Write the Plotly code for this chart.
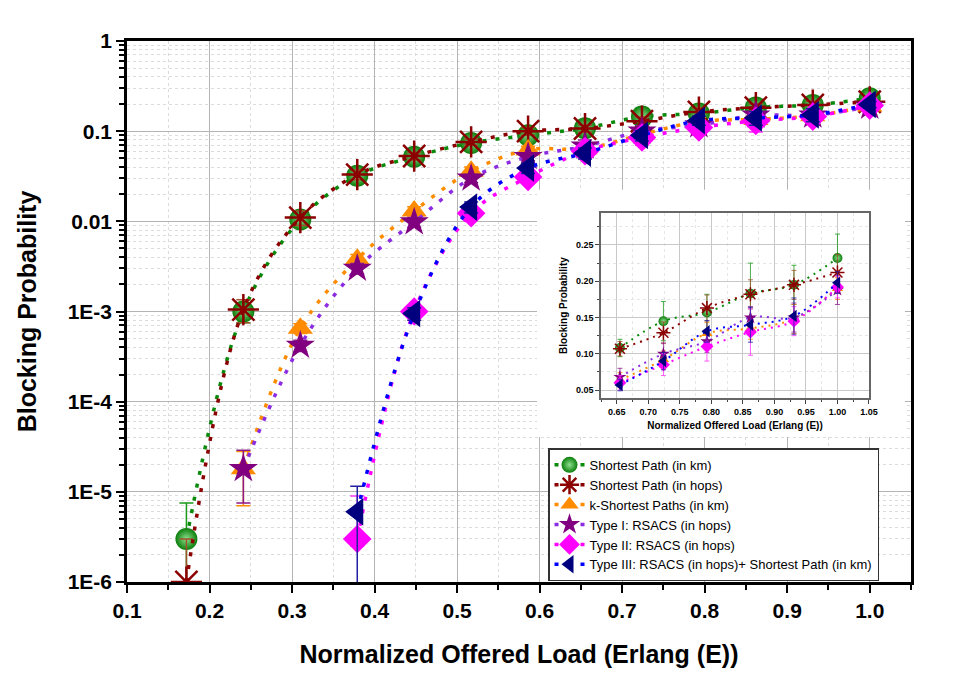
import plotly.graph_objects as go

# ---------------- data ----------------
load = [0.172, 0.241, 0.310, 0.379, 0.448, 0.517, 0.586, 0.655, 0.724, 0.793, 0.862, 0.931, 1.000]

sp_km = [3.0e-6, 1.0e-3, 0.0105, 0.032, 0.052, 0.074, 0.090, 0.108, 0.145, 0.157, 0.183, 0.195, 0.232]
sp_km_hi = [4.5e-6, 2.5e-4, 1.5e-3, 3e-3, 4e-3, 5e-3, 8e-3, 0.012, 0.027, 0.025, 0.042, 0.027, 0.033]
sp_km_lo = [2.99e-6, 2.5e-4, 1.5e-3, 3e-3, 4e-3, 5e-3, 8e-3, 0.012, 0.027, 0.025, 0.042, 0.027, 0.033]

sp_hops = [1.0e-6, 1.05e-3, 0.011, 0.033, 0.053, 0.076, 0.100, 0.107, 0.129, 0.163, 0.182, 0.195, 0.212]
sp_hops_hi = [2.0e-6, 3e-4, 2e-3, 4e-3, 5e-3, 6e-3, 1e-2, 0.010, 0.015, 0.018, 0.020, 0.020, 0.025]
sp_hops_lo = [0.5e-6, 3e-4, 2e-3, 4e-3, 5e-3, 6e-3, 1e-2, 0.010, 0.015, 0.018, 0.020, 0.020, 0.025]

ksp_km = [None, 1.8e-5, 6.5e-4, 3.8e-3, 0.013, 0.036, 0.062, 0.064, 0.092, 0.128, 0.135, 0.148, 0.190]
ksp_km_hi = [0, 1.0e-5, 8e-5, 5e-4, 1.5e-3, 4e-3, 6e-3, 0.010, 0.012, 0.015, 0.015, 0.020, 0.015]
ksp_km_lo = [0, 1.1e-5, 8e-5, 5e-4, 1.5e-3, 4e-3, 6e-3, 0.010, 0.012, 0.015, 0.015, 0.020, 0.015]

type1 = [None, 1.8e-5, 4.2e-4, 3.0e-3, 0.0098, 0.030, 0.052, 0.068, 0.100, 0.117, 0.150, 0.150, 0.188]
type1_hi = [0, 1.1e-5, 6e-5, 4e-4, 1.2e-3, 3e-3, 5e-3, 0.012, 0.015, 0.015, 0.015, 0.020, 0.020]
type1_lo = [0, 1.05e-5, 6e-5, 4e-4, 1.2e-3, 3e-3, 5e-3, 0.012, 0.015, 0.015, 0.015, 0.020, 0.020]

type2 = [None, None, None, 3.0e-6, 1.0e-3, 0.0123, 0.031, 0.060, 0.085, 0.110, 0.130, 0.145, 0.192]
type2_hi = [0, 0, 0, 6e-6, 1.5e-4, 1.5e-3, 4e-3, 0.010, 0.015, 0.020, 0.032, 0.020, 0.015]
type2_lo = [0, 0, 0, 0.5e-6, 1.5e-4, 1.5e-3, 4e-3, 0.010, 0.015, 0.020, 0.032, 0.020, 0.015]

type3 = [None, None, None, 6.0e-6, 9.5e-4, 0.0144, 0.039, 0.057, 0.090, 0.131, 0.140, 0.152, 0.198]
type3_hi = [0, 0, 0, 5.5e-6, 1.5e-4, 2e-3, 5e-3, 0.008, 0.012, 0.015, 0.024, 0.025, 0.015]
type3_lo = [0, 0, 0, 5.99e-6, 1.5e-4, 2e-3, 5e-3, 0.008, 0.012, 0.015, 0.024, 0.025, 0.015]

series_names = ["Shortest Path (in km)", "Shortest Path (in hops)", "k-Shortest Paths (in km)",
                "Type I: RSACS (in hops)", "Type II: RSACS (in hops)",
                "Type III: RSACS (in hops)+ Shortest Path (in km)"]

x_tickvals = [0.1, 0.2, 0.3, 0.4, 0.5, 0.6, 0.7, 0.8, 0.9, 1.0]
x_ticktext = ["0.1", "0.2", "0.3", "0.4", "0.5", "0.6", "0.7", "0.8", "0.9", "1.0"]
y_tickvals = [1e-6, 1e-5, 1e-4, 1e-3, 1e-2, 1e-1, 1]
y_ticktext = ["1E-6", "1E-5", "1E-4", "1E-3", "0.01", "0.1", "1"]
inset_xticks = [0.65, 0.70, 0.75, 0.80, 0.85, 0.90, 0.95, 1.00, 1.05]
inset_yticks = [0.05, 0.10, 0.15, 0.20, 0.25]
inset_start = 7  # index of first load point shown in the inset (0.655)

# ---------------- styles ----------------
styles = [
    dict(symbol="circle", mcolor="#0a7d0a", lcolor="#0a8a0a", ecolor="#1a9a1a", size=22,
         gradient=dict(type="radial", color="#8fe08f"), mline=dict(width=0)),
    dict(symbol="asterisk-open", mcolor="#8b0000", lcolor="#8b0000", ecolor="#a0522d", size=26,
         gradient=None, mline=dict(width=2.5, color="#8b0000")),
    dict(symbol="triangle-up", mcolor="#ff8c00", lcolor="#ff8c00", ecolor="#ff8c00", size=22,
         gradient=None, mline=dict(width=0)),
    dict(symbol="star", mcolor="#800080", lcolor="#8b2be2", ecolor="#8b1a8b", size=22,
         gradient=None, mline=dict(width=0)),
    dict(symbol="diamond", mcolor="#ff00ff", lcolor="#ff00ff", ecolor="#ff33ff", size=22,
         gradient=None, mline=dict(width=0)),
    dict(symbol="triangle-left", mcolor="#00007f", lcolor="#0000ff", ecolor="#2020a0", size=24,
         gradient=None, mline=dict(width=0)),
]
all_y = [sp_km, sp_hops, ksp_km, type1, type2, type3]
all_hi = [sp_km_hi, sp_hops_hi, ksp_km_hi, type1_hi, type2_hi, type3_hi]
all_lo = [sp_km_lo, sp_hops_lo, ksp_km_lo, type1_lo, type2_lo, type3_lo]

FONT = "Liberation Sans, Arial, sans-serif"

fig = go.Figure()

# main traces
for name, ys, hi, lo, st in zip(series_names, all_y, all_hi, all_lo, styles):
    marker = dict(symbol=st["symbol"], color=st["mcolor"], size=st["size"], line=st["mline"])
    if st["gradient"]:
        marker["gradient"] = st["gradient"]
    fig.add_trace(go.Scatter(
        x=load, y=ys, name=name, mode="lines+markers",
        line=dict(color=st["lcolor"], width=3.5, dash="4px,9px", shape="spline", smoothing=1),
        marker=marker,
        error_y=dict(type="data", array=hi, arrayminus=lo, color=st["ecolor"],
                     thickness=1.5, width=7),
        xaxis="x", yaxis="y"))

# white box behind inset (own hidden subplot drawn above main grid)
fig.add_trace(go.Scatter(x=[0, 1, 1, 0, 0], y=[0, 0, 1, 1, 0], mode="lines", fill="toself",
                         fillcolor="white", line=dict(width=0), hoverinfo="skip",
                         showlegend=False, xaxis="x2", yaxis="y2"))

# inset traces
s = inset_start
for name, ys, hi, lo, st in zip(series_names, all_y, all_hi, all_lo, styles):
    marker = dict(symbol=st["symbol"], color=st["mcolor"], size=max(8, st["size"] * 0.45),
                  line=dict(width=1.5, color=st["mcolor"]) if st["symbol"] == "asterisk-open" else dict(width=0))
    if st["gradient"]:
        marker["gradient"] = st["gradient"]
    fig.add_trace(go.Scatter(
        x=load[s:], y=ys[s:], name=name, mode="lines+markers",
        showlegend=False,
        line=dict(color=st["lcolor"], width=2, dash="2px,5px", shape="spline", smoothing=1),
        marker=marker,
        error_y=dict(type="data", array=hi[s:], arrayminus=lo[s:],
                     color=st["ecolor"], thickness=0.8, width=2.5),
        xaxis="x3", yaxis="y3"))

# minor tick positions for log axis
minor_vals = [m * 10 ** e for e in range(-6, 0) for m in range(2, 10)]

fig.update_layout(
    width=949, height=677,
    margin=dict(l=119, r=46, t=33, b=103, autoexpand=False),
    paper_bgcolor="white", plot_bgcolor="white",
    font=dict(family=FONT, color="black"),
    showlegend=True,
    legend=dict(x=0.537, y=0.247, xanchor="left", yanchor="top",
                bgcolor="white", bordercolor="#333333", borderwidth=1.5,
                font=dict(family=FONT, size=13, color="black"),
                tracegroupgap=0, itemsizing="trace"),
    xaxis=dict(domain=[0, 1], range=[0.1, 1.05], tickmode="array", tickvals=x_tickvals,
               ticktext=x_ticktext, ticks="outside", ticklen=8, tickwidth=2, tickcolor="black",
               showline=True, linecolor="black", linewidth=2.5, mirror=True, automargin=False,
               showgrid=True, gridcolor="#b4b4b4", gridwidth=1.2, zeroline=False,
               minor=dict(dtick=0.05, tick0=0.05, ticks="outside", ticklen=5, tickwidth=1.5,
                          tickcolor="black", showgrid=True, gridcolor="#dcdcdc",
                          griddash="dot", gridwidth=1),
               tickfont=dict(family=FONT, size=21, weight="bold"),
               title=dict(text="Normalized Offered Load (Erlang (E))", standoff=25,
                          font=dict(family=FONT, size=25, weight="bold"))),
    yaxis=dict(domain=[0, 1], type="log", range=[-6, 0], tickmode="array", tickvals=y_tickvals,
               ticktext=y_ticktext, ticks="outside", ticklen=8, tickwidth=2, tickcolor="black",
               showline=True, linecolor="black", linewidth=2.5, mirror=True, automargin=False,
               showgrid=True, gridcolor="#b4b4b4", gridwidth=1.2, zeroline=False,
               minor=dict(tickmode="array", tickvals=minor_vals, ticks="outside", ticklen=5,
                          tickwidth=1.5, tickcolor="black", showgrid=True,
                          gridcolor="#dcdcdc", griddash="dot", gridwidth=1),
               tickfont=dict(family=FONT, size=21, weight="bold"),
               title=dict(text="Blocking Probability", standoff=24,
                          font=dict(family=FONT, size=25, weight="bold"))),
    xaxis2=dict(domain=[0.523, 0.992], range=[0, 1], visible=False, fixedrange=True),
    yaxis2=dict(domain=[0.268, 0.725], range=[0, 1], visible=False, fixedrange=True),
    xaxis3=dict(domain=[0.6046, 0.9464], range=[0.625, 1.05], anchor="y3", automargin=False,
                tickmode="array", tickvals=inset_xticks,
                ticktext=["%.2f" % v for v in inset_xticks],
                ticks="outside", ticklen=4, tickwidth=1, tickcolor="#444",
                showline=True, linecolor="#666666", linewidth=1.5, mirror=True,
                showgrid=True, gridcolor="#c8c8c8", gridwidth=1, zeroline=False,
                minor=dict(dtick=0.025, tick0=0.625, ticks="outside", ticklen=2, showgrid=True,
                           gridcolor="#e6e6e6", griddash="dot"),
                tickfont=dict(family=FONT, size=9, weight="bold"),
                title=dict(text="Normalized Offered Load (Erlang (E))", standoff=6,
                           font=dict(family=FONT, size=10, weight="bold"))),
    yaxis3=dict(domain=[0.340, 0.682], range=[0.039, 0.294], anchor="x3", automargin=False,
                tickmode="array", tickvals=inset_yticks,
                ticktext=["%.2f" % v for v in inset_yticks],
                ticks="outside", ticklen=4, tickwidth=1, tickcolor="#444",
                showline=True, linecolor="#666666", linewidth=1.5, mirror=True,
                showgrid=True, gridcolor="#c8c8c8", gridwidth=1, zeroline=False,
                minor=dict(dtick=0.025, tick0=0.025, ticks="outside", ticklen=2, showgrid=True,
                           gridcolor="#e6e6e6", griddash="dot"),
                tickfont=dict(family=FONT, size=9, weight="bold"),
                title=dict(text="Blocking Probability", standoff=6,
                           font=dict(family=FONT, size=10, weight="bold"))),
)

fig.write_html("out.html")
